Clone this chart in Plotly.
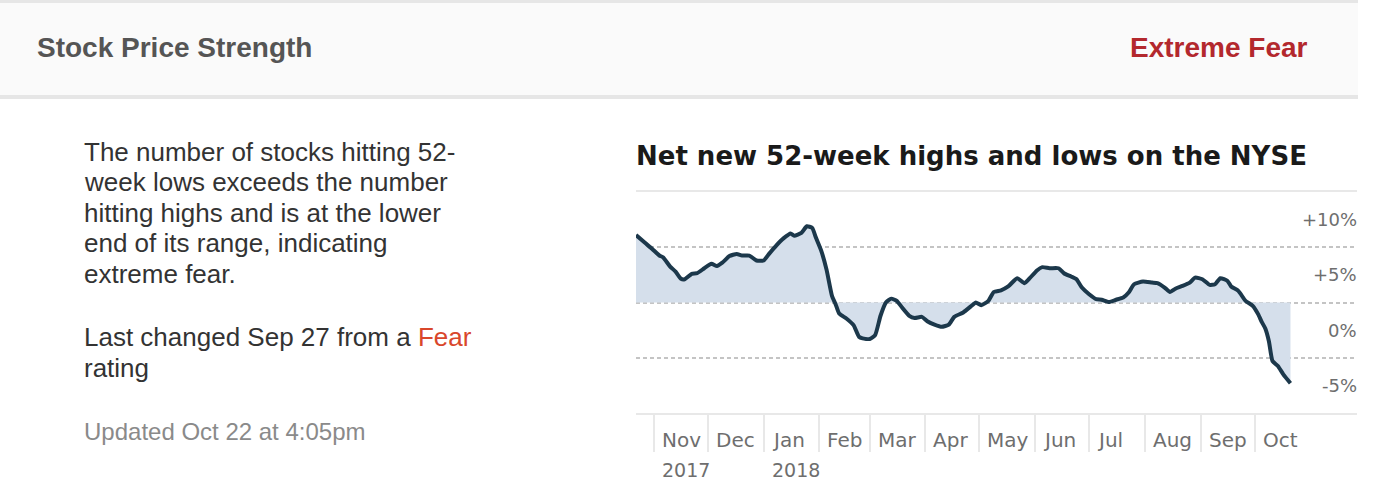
import plotly.graph_objects as go

W, H = 1380, 497

# net new 52-week highs minus lows, % of NYSE issues
dates = [
    "2017-10-22", "2017-10-27", "2017-10-31", "2017-11-04", "2017-11-06", "2017-11-10",
    "2017-11-13", "2017-11-16", "2017-11-18", "2017-11-22", "2017-11-25", "2017-11-29",
    "2017-12-03", "2017-12-06", "2017-12-09", "2017-12-13", "2017-12-17", "2017-12-20",
    "2017-12-24", "2017-12-28", "2018-01-01", "2018-01-04", "2018-01-08", "2018-01-12",
    "2018-01-16", "2018-01-18", "2018-01-22", "2018-01-25", "2018-01-28", "2018-01-30",
    "2018-02-02", "2018-02-05", "2018-02-08", "2018-02-10", "2018-02-12", "2018-02-16",
    "2018-02-20", "2018-02-23", "2018-02-25", "2018-03-01", "2018-03-04", "2018-03-07",
    "2018-03-10", "2018-03-13", "2018-03-16", "2018-03-19", "2018-03-23", "2018-03-26",
    "2018-03-30", "2018-04-02", "2018-04-06", "2018-04-10", "2018-04-14", "2018-04-17",
    "2018-04-22", "2018-04-27", "2018-04-29", "2018-05-02", "2018-05-06", "2018-05-09",
    "2018-05-13", "2018-05-17", "2018-05-22", "2018-05-26", "2018-05-29", "2018-06-02",
    "2018-06-05", "2018-06-09", "2018-06-14", "2018-06-17", "2018-06-21", "2018-06-24",
    "2018-06-27", "2018-07-01", "2018-07-05", "2018-07-08", "2018-07-12", "2018-07-16",
    "2018-07-20", "2018-07-23", "2018-07-26", "2018-07-31", "2018-08-05", "2018-08-08",
    "2018-08-12", "2018-08-15", "2018-08-18", "2018-08-22", "2018-08-26", "2018-08-29",
    "2018-09-02", "2018-09-06", "2018-09-09", "2018-09-12", "2018-09-16", "2018-09-18",
    "2018-09-22", "2018-09-26", "2018-09-30", "2018-10-03", "2018-10-05", "2018-10-07",
    "2018-10-09", "2018-10-11", "2018-10-14", "2018-10-17", "2018-10-21",
]
net_highs = [
    6.1, 5.4, 4.85, 4.25, 4.1, 3.25,
    2.8, 2.15, 2.1, 2.6, 2.65, 3.1,
    3.5, 3.3, 3.6, 4.2, 4.4, 4.25,
    4.25, 3.8, 3.8, 4.4, 5.15, 5.8,
    6.25, 6.05, 6.3, 6.9, 6.75, 5.9,
    4.7, 2.95, 0.6, -0.15, -1.0, -1.45,
    -2.05, -3.1, -3.25, -3.3, -2.95, -1.2,
    0.0, 0.35, 0.15, -0.45, -1.2, -1.4,
    -1.3, -1.7, -2.0, -2.2, -2.0, -1.3,
    -0.9, -0.25, 0.0, -0.25, 0.15, 0.95,
    1.1, 1.45, 2.2, 1.75, 2.2, 2.9,
    3.2, 3.1, 3.1, 2.65, 2.35, 2.1,
    1.35, 0.75, 0.3, 0.25, 0.05, 0.25,
    0.45, 0.9, 1.65, 1.9, 1.8, 1.75,
    1.35, 0.95, 1.25, 1.5, 1.8, 2.25,
    2.1, 1.6, 1.65, 2.2, 1.95, 1.45,
    1.05, 0.15, -0.3, -1.05, -1.75, -2.35,
    -3.5, -5.3, -5.75, -6.5, -7.3,
]

month_starts = ["2017-11-01", "2017-12-01", "2018-01-01", "2018-02-01", "2018-03-01",
                "2018-04-01", "2018-05-01", "2018-06-01", "2018-07-01", "2018-08-01",
                "2018-09-01", "2018-10-01"]
month_labels = ["Nov", "Dec", "Jan", "Feb", "Mar", "Apr", "May", "Jun", "Jul", "Aug", "Sep", "Oct"]
year_labels = {"2017-11-01": "2017", "2018-01-01": "2018"}

y_grid = [-5, 0, 5]
y_labels = {10: "+10%", 5: "+5%", 0: "0%", -5: "-5%"}


def px_x(x):
    return x / W


def px_y(y):
    return 1 - y / H


fig = go.Figure()
fig.add_trace(go.Scatter(
    x=dates, y=net_highs, mode="lines", fill="tozeroy",
    fillcolor="#d5dfeb", line=dict(color="#1c384b", width=4, shape="spline", smoothing=0.5),
    hoverinfo="skip",
))

annotations = []

# header
annotations.append(dict(text="<b>Stock Price Strength</b>", x=px_x(35), y=px_y(48),
                        xanchor="left", yanchor="middle",
                        font=dict(family="Liberation Sans", size=28, color="#555555")))
annotations.append(dict(text="<b>Extreme Fear</b>", x=px_x(1310), y=px_y(48),
                        xanchor="right", yanchor="middle",
                        font=dict(family="Liberation Sans", size=28, color="#b3282d")))

# left description
body_lines = [
    ("The number of stocks hitting 52-", 152),
    ("week lows exceeds the number", 182),
    ("hitting highs and is at the lower", 213),
    ("end of its range, indicating", 243),
    ("extreme fear.", 274),
    ("Last changed Sep 27 from a <span style='color:#d9472b'>Fear</span>", 337),
    ("rating", 368),
]
for txt, yy in body_lines:
    annotations.append(dict(text=txt, x=px_x(82), y=px_y(yy), xanchor="left", yanchor="middle",
                            font=dict(family="Liberation Sans", size=26, color="#333333")))
annotations.append(dict(text="Updated Oct 22 at 4:05pm", x=px_x(82), y=px_y(431),
                        xanchor="left", yanchor="middle",
                        font=dict(family="Liberation Sans", size=24, color="#8a8a8a")))

# chart title
annotations.append(dict(text="<b>Net new 52-week highs and lows on the NYSE</b>",
                        x=px_x(634), y=px_y(156), xanchor="left", yanchor="middle",
                        font=dict(family="DejaVu Sans", size=26, color="#1a1a1a")))

# y labels sit half a band below their value
for v, lab in y_labels.items():
    annotations.append(dict(text=lab, xref="paper", yref="y", x=px_x(1359), y=v - 2.5,
                            xanchor="right", yanchor="middle",
                            font=dict(family="DejaVu Sans", size=18, color="#6e6e6e")))

# month / year labels
for d, lab in zip(month_starts, month_labels):
    annotations.append(dict(text=lab, xref="x", yref="paper", x=d, y=px_y(440),
                            xanchor="left", yanchor="middle", xshift=6,
                            font=dict(family="DejaVu Sans", size=20, color="#6e6e6e")))
for d, lab in year_labels.items():
    annotations.append(dict(text=lab, xref="x", yref="paper", x=d, y=px_y(470),
                            xanchor="left", yanchor="middle", xshift=6,
                            font=dict(family="DejaVu Sans", size=19, color="#6e6e6e")))

for a in annotations:
    a.setdefault("xref", "paper")
    a.setdefault("yref", "paper")
    a["showarrow"] = False

shapes = [
    # header band with borders
    dict(type="rect", xref="paper", yref="paper", x0=0, x1=px_x(1358), y0=px_y(0), y1=px_y(99),
         fillcolor="#e6e6e6", line=dict(width=0), layer="below"),
    dict(type="rect", xref="paper", yref="paper", x0=0, x1=px_x(1358), y0=px_y(3), y1=px_y(95),
         fillcolor="#fafafa", line=dict(width=0), layer="below"),
]

fig.update_layout(
    width=W, height=H,
    margin=dict(l=0, r=0, t=0, b=0),
    paper_bgcolor="white", plot_bgcolor="white",
    showlegend=False,
    annotations=annotations,
    shapes=shapes,
    xaxis=dict(
        type="date", range=["2017-10-22", "2018-11-27"],
        domain=[px_x(636), px_x(1357)],
        showgrid=False, zeroline=False,
        showline=True, mirror=True, linecolor="#e8e8e8", linewidth=2,
        tickmode="array", tickvals=month_starts, showticklabels=False,
        ticks="outside", ticklen=37, tickwidth=2, tickcolor="#e8e8e8",
        fixedrange=True,
    ),
    yaxis=dict(
        range=[-10, 10],
        domain=[px_y(413), px_y(192)],
        tickmode="array", tickvals=y_grid, showticklabels=False,
        showgrid=True, gridcolor="#c4c4c4", gridwidth=1.5, griddash="4px,3px",
        zeroline=False, showline=False, ticks="",
        fixedrange=True,
    ),
)

# page body has a default 8px margin; drop it so the figure sits at the window corner
fig.write_html("out.html", config={"displayModeBar": False},
               post_script="document.body.style.margin='0';")
